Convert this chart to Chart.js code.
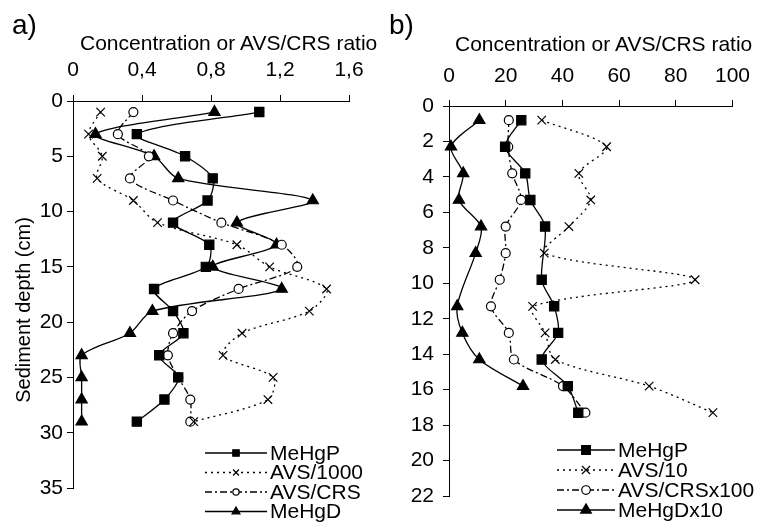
<!DOCTYPE html>
<html>
<head>
<meta charset="utf-8">
<script src="https://cdn.jsdelivr.net/npm/chart.js@4.4.1/dist/chart.umd.min.js"></script>
<style>
  body { margin: 0; background: #fff; font-family: "Liberation Sans", Arial, sans-serif; }
  #wrap { position: relative; width: 761px; height: 523px; overflow: hidden; }
  .box { position: absolute; top: 0; height: 523px; }
  .lbl { position: absolute; color: #000; white-space: nowrap; line-height: 1; }
</style>
</head>
<body>
<div id="wrap">
  <div class="box" style="left:0;width:390px"><canvas id="chartA"></canvas></div>
  <div class="box" style="left:390px;width:371px"><canvas id="chartB"></canvas></div>
  <div class="lbl" style="left:12px;top:11px;font-size:28px">a)</div>
  <div class="lbl" style="left:389px;top:11px;font-size:28px">b)</div>
  <div class="lbl" style="left:80px;top:32px;font-size:21px">Concentration or AVS/CRS ratio</div>
  <div class="lbl" style="left:455px;top:33px;font-size:21px">Concentration or AVS/CRS ratio</div>
  <div class="lbl" style="top:310px;font-size:20px;transform:translate(-50%,-50%) rotate(-90deg);transform-origin:center;left:23px">Sediment depth (cm)</div>
</div>
<script>
// ─── Data: panel a ─────────────────────────────
const depthA = [1, 3, 5, 7, 9, 11, 13, 15, 17, 19, 21, 23, 25, 27, 29];
const mehgpA = [1.08, 0.37, 0.65, 0.81, 0.78, 0.58, 0.79, 0.77, 0.47, 0.58, 0.64, 0.50, 0.61, 0.53, 0.37];
const avsA   = [0.16, 0.09, 0.17, 0.14, 0.35, 0.49, 0.95, 1.14, 1.47, 1.37, 0.98, 0.87, 1.16, 1.13, 0.70];
const ratioA = [0.35, 0.26, 0.44, 0.33, 0.58, 0.86, 1.21, 1.30, 0.96, 0.69, 0.58, 0.55, 0.61, 0.68, 0.68];
const mehgdA = [0.82, 0.13, 0.47, 0.61, 1.39, 0.95, 1.18, 0.81, 1.21, 0.46, 0.33, 0.05, 0.05, 0.05, 0.05];
const labelsA = ['MeHgP', 'AVS/1000', 'AVS/CRS', 'MeHgD'];
const xTicksA = [0, 0.4, 0.8, 1.2, 1.6];

// ─── Data: panel b ─────────────────────────────
const depthB = [0.8, 2.3, 3.8, 5.3, 6.8, 8.3, 9.8, 11.3, 12.8, 14.3, 15.8, 17.3];
const mehgpB = [25.5, 19.8, 26.9, 28.7, 33.9, null, 32.7, 37.1, 38.5, 32.7, 41.9, 45.6];
const avsB   = [32.7, 55.6, 45.8, 50.0, 42.3, 33.6, 86.8, 29.5, 33.9, 37.5, 70.6, 93.1];
const ratioB = [21.1, 20.9, 22.3, 25.4, 20.0, 20.0, 17.9, 14.8, 21.1, 22.9, 40.2, 48.1];
const mehgdB = [10.7, 0.7, 5.0, 3.5, 11.3, 9.4, null, 2.9, 4.7, 10.7, 26.1, null];
const labelsB = ['MeHgP', 'AVS/10', 'AVS/CRSx100', 'MeHgDx10'];
const xTicksB = [0, 20, 40, 60, 80, 100];

const FONT = '"Liberation Sans", Arial, sans-serif';

function pts(depths, vals) {
    const out = [];
    depths.forEach((d, i) => { if (vals[i] !== null) out.push({ x: vals[i], y: d }); });
    return out;
}

// line + marker styles shared by both panels
const styles = [
    { pointStyle: 'rect',     radius: 6.5, fill: '#000', dash: [] },
    { pointStyle: 'crossRot', radius: 6,   fill: '#000', dash: [2, 4] },
    { pointStyle: 'circle',   radius: 4.5, fill: '#fff', dash: [7, 3, 2, 3] },
    { pointStyle: 'triangle', radius: 6.5, fill: '#000', dash: [] }
];

function makeSets(depths, series, labels) {
    return series.map((vals, i) => ({
        label: labels[i],
        data: pts(depths, vals),
        showLine: true,
        tension: 0.3,
        borderColor: '#000',
        borderWidth: 1.3,
        borderDash: styles[i].dash,
        pointStyle: styles[i].pointStyle,
        pointRadius: styles[i].radius,
        pointBackgroundColor: styles[i].fill,
        pointBorderColor: '#000',
        pointBorderWidth: 1.2,
        clip: false
    }));
}

// Custom legend: line sample with marker in the middle, like the original
const lineLegend = {
    id: 'lineLegend',
    afterDraw(chart, args, opts) {
        const ctx = chart.ctx;
        ctx.save();
        chart.data.datasets.forEach((ds, i) => {
            const y = opts.y + i * opts.gap;
            ctx.strokeStyle = '#000';
            ctx.lineWidth = 1.3;
            ctx.setLineDash(ds.borderDash);
            ctx.beginPath();
            ctx.moveTo(opts.x, y);
            ctx.lineTo(opts.x + opts.w, y);
            ctx.stroke();
            ctx.setLineDash([]);
            ctx.fillStyle = ds.pointBackgroundColor;
            ctx.lineWidth = 1.2;
            Chart.helpers.drawPoint(ctx, {
                pointStyle: ds.pointStyle,
                radius: ds.pointRadius * opts.scale,
                borderWidth: 1.2,
                rotation: 0
            }, opts.x + opts.w / 2, y);
            ctx.fillStyle = '#000';
            ctx.font = '21px ' + FONT;
            ctx.textBaseline = 'middle';
            ctx.textAlign = 'left';
            ctx.fillText(ds.label, opts.x + opts.w + 3, y + 1);
        });
        ctx.restore();
    }
};

function axisCommon() {
    return {
        grid: { drawOnChartArea: false, drawTicks: true, tickLength: 6, color: '#000', lineWidth: 1 },
        border: { color: '#000', width: 1 },
        ticks: { color: '#000', font: { family: FONT, size: 21 } }
    };
}

function buildChart(id, sets, cfg) {
    const xa = axisCommon(), ya = axisCommon();
    new Chart(document.getElementById(id), {
        type: 'scatter',
        data: { datasets: sets },
        options: {
            responsive: true,
            maintainAspectRatio: false,
            animation: false,
            layout: { padding: { left: 0, top: 0, right: cfg.padRight, bottom: cfg.padBottom } },
            scales: {
                x: Object.assign(xa, {
                    position: 'top', min: cfg.xMin, max: cfg.xMax,
                    afterBuildTicks: s => { s.ticks = cfg.xTicks.map(v => ({ value: v })); },
                    afterFit: s => { s.height = cfg.top; },
                    ticks: Object.assign(xa.ticks, { padding: cfg.xPad, callback: cfg.xFmt, maxRotation: 0 })
                }),
                y: Object.assign(ya, {
                    reverse: true, min: 0, max: cfg.yMax,
                    afterFit: s => { s.width = cfg.left; },
                    ticks: Object.assign(ya.ticks, { stepSize: cfg.yStep, padding: cfg.yPad })
                })
            },
            plugins: {
                legend: { display: false },
                tooltip: { enabled: false },
                lineLegend: cfg.legend
            }
        },
        plugins: [lineLegend]
    });
}

buildChart('chartA', makeSets(depthA, [mehgpA, avsA, ratioA, mehgdA], labelsA), {
    xMin: 0, xMax: 1.6, xTicks: xTicksA, yMax: 35, yStep: 5,
    left: 73, top: 101, padRight: 41, padBottom: 35, xPad: 12, yPad: 4,
    xFmt: v => v === 0 ? '0' : Number(v).toFixed(1).replace('.', ','),
    legend: { x: 205, w: 62, y: 453, gap: 19.5, scale: 0.7 }
});

buildChart('chartB', makeSets(depthB, [mehgpB, avsB, ratioB, mehgdB], labelsB), {
    xMin: 0, xMax: 100, xTicks: xTicksB, yMax: 22, yStep: 2,
    left: 59, top: 106, padRight: 23, padBottom: 27, xPad: 11, yPad: 9,
    xFmt: v => String(v),
    legend: { x: 167, w: 58, y: 450, gap: 20, scale: 0.95 }
});
</script>
</body>
</html>
